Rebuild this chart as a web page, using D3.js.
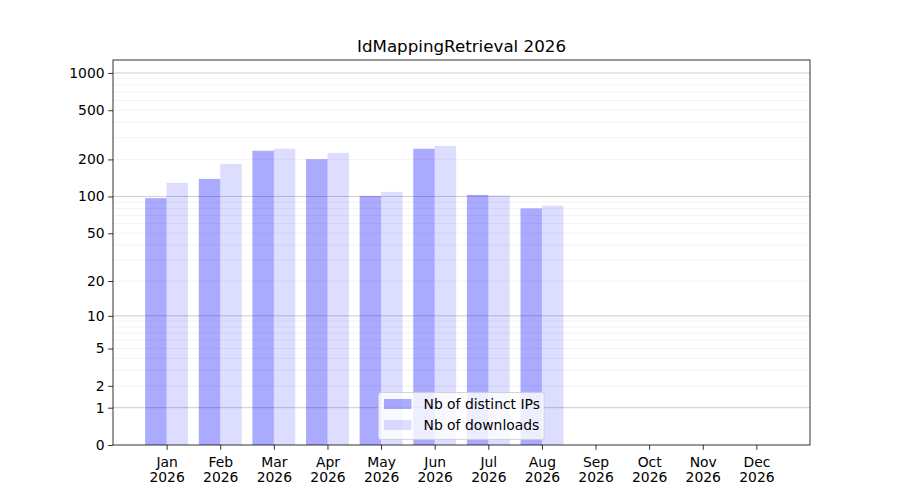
<!DOCTYPE html>
<html><head><meta charset="utf-8">
<script src="https://cdn.jsdelivr.net/npm/d3@7"></script>
<style>body{margin:0;background:#fff}svg{font-family:"DejaVu Sans",sans-serif}</style>
</head><body>
<svg id="c" width="900" height="500"></svg>
<script>
const months = ["Jan","Feb","Mar","Apr","May","Jun","Jul","Aug","Sep","Oct","Nov","Dec"];
const year = "2026";
const ips = [97,139,235,201,101,244,103,80];
const downloads = [129,184,244,226,109,257,102,84];
const yTicks = [0,1,2,5,10,20,50,100,200,500,1000];
const majorGrid = [1,10,100,1000];
const minorGrid = [2,3,4,5,6,7,8,9,20,30,40,50,60,70,80,90,200,300,400,500,600,700,800,900];
const title = "IdMappingRetrieval 2026";
const seriesNames = ["Nb of distinct IPs","Nb of downloads"];

const L=113,R=810,T=60,B=445;
const svg=d3.select("#c");
const x=d3.scaleLinear().domain([-1,12]).range([L,R]);
const y=d3.scaleSymlog().constant(1).domain([0,1272]).range([B,T]);
const bw=x(0.4)-x(0);

const g=svg.append("g");
g.selectAll(".mg").data(minorGrid).join("line")
 .attr("x1",L).attr("x2",R).attr("y1",d=>y(d)).attr("y2",d=>y(d))
 .attr("stroke","#b0b0b0").attr("stroke-opacity",0.2).attr("stroke-width",0.8);
g.selectAll(".Mg").data(majorGrid).join("line")
 .attr("x1",L).attr("x2",R).attr("y1",d=>y(d)).attr("y2",d=>y(d))
 .attr("stroke","#b0b0b0").attr("stroke-opacity",0.8).attr("stroke-width",0.8);

g.selectAll(".b1").data(ips).join("rect")
 .attr("x",(d,i)=>x(i-0.4)).attr("width",bw)
 .attr("y",d=>y(d)).attr("height",d=>B-y(d))
 .attr("fill","blue").attr("fill-opacity",0.333);
g.selectAll(".b2").data(downloads).join("rect")
 .attr("x",(d,i)=>x(i)).attr("width",bw)
 .attr("y",d=>y(d)).attr("height",d=>B-y(d))
 .attr("fill","blue").attr("fill-opacity",0.133);

// axes
const ya=d3.axisLeft(y).tickValues(yTicks).tickFormat(d3.format("d")).tickSize(4.9).tickPadding(3.5);
const yg=svg.append("g").attr("transform",`translate(${L},0)`).call(ya);
yg.select(".domain").remove();
yg.selectAll("text").attr("font-size",13.9).attr("fill","#000").attr("font-family","DejaVu Sans");
yg.selectAll("line").attr("stroke","#000").attr("stroke-width",0.8);

const xa=d3.axisBottom(x).tickValues(d3.range(12)).tickFormat(()=>"").tickSize(4.9);
const xg=svg.append("g").attr("transform",`translate(0,${B})`).call(xa);
xg.select(".domain").remove();
xg.selectAll("line").attr("stroke","#000").attr("stroke-width",0.8);
xg.selectAll(".tick").each(function(d){
  const t=d3.select(this).select("text").attr("font-size",13.9).attr("fill","#000")
    .attr("font-family","DejaVu Sans").attr("y",0).attr("dy",null);
  t.append("tspan").attr("x",0).attr("y",22).text(months[d]);
  t.append("tspan").attr("x",0).attr("y",37).text(year);
});

svg.append("rect").attr("x",L).attr("y",T).attr("width",R-L).attr("height",B-T)
 .attr("fill","none").attr("stroke","#000").attr("stroke-width",0.8);

svg.append("text").attr("x",(L+R)/2).attr("y",52).attr("text-anchor","middle")
 .attr("font-size",16.7).text(title);

// legend
const lg=svg.append("g").attr("transform","translate(378.5,392.5)");
lg.append("rect").attr("width",165.5).attr("height",47).attr("rx",2.5)
 .attr("fill","#fff").attr("fill-opacity",0.8).attr("stroke","#cccccc").attr("stroke-width",0.8);
const op=[0.333,0.133];
seriesNames.forEach((n,i)=>{
  lg.append("rect").attr("x",5.5).attr("y",6.5+i*21).attr("width",27.5).attr("height",10)
   .attr("fill","blue").attr("fill-opacity",op[i]);
  lg.append("text").attr("x",45).attr("y",16.5+i*21).attr("font-size",13.9).text(n);
});
</script>
</body></html>
